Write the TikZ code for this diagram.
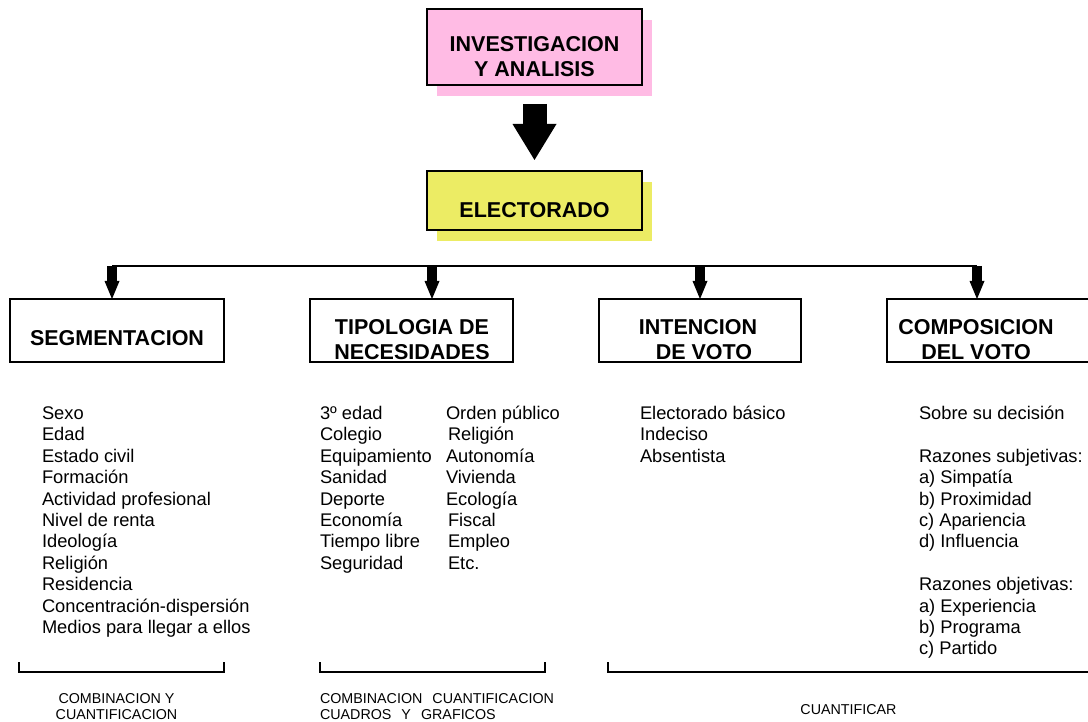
\documentclass[tikz,border=0pt]{standalone}
\usepackage{fontspec}
\setmainfont{Liberation Sans}
\usetikzlibrary{arrows.meta,shadows}
\definecolor{pinkfill}{RGB}{255,187,228}
\definecolor{yellowfill}{RGB}{236,236,100}
\begin{document}
\begin{tikzpicture}[x=1pt, y=-1pt,
  every node/.style={inner sep=0pt, outer sep=0pt},
  topbox/.style={draw=black, line width=2pt, rectangle, minimum width=215pt},
  catbox/.style={draw=black, line width=2pt, rectangle, minimum height=63pt},
  title/.style={font=\fontsize{21.5pt}{25pt}\selectfont\bfseries, align=center},
  item/.style={font=\fontsize{18.3pt}{21.4pt}\selectfont, anchor=base west},
  note/.style={font=\fontsize{14.3pt}{16pt}\selectfont},
  bigarrow/.style={line width=24pt, -{Triangle[width=44pt 0, length=36pt 0, line width=0pt]}},
  branch/.style={line width=10pt, -{Triangle[width=15pt 0, length=18pt 0, line width=0pt]}},
  bus/.style={line width=2pt},
  bracket/.style={line width=1.5pt}
]
\useasboundingbox (0,0) rectangle (1088,722);
\clip (0,0) rectangle (1088,722);

% top boxes with offset shadows
\node[topbox, minimum height=76pt, fill=pinkfill,
      general shadow={fill=pinkfill, draw=none, shadow xshift=10pt, shadow yshift=-11pt}]
      (inv) at (534.5,47) {};
\node[title] (invT) at (534.5,56.5) {INVESTIGACION\\Y ANALISIS};

\node[topbox, minimum height=59pt, fill=yellowfill,
      general shadow={fill=yellowfill, draw=none, shadow xshift=10pt, shadow yshift=-11pt}]
      (elec) at (534.5,200.5) {};
\node[title] (elecT) at (534.5,210) {ELECTORADO};

\draw[bigarrow, shorten <=19pt, shorten >=11pt] (inv.south) -- (elec.north);

% category boxes
\node[catbox, minimum width=214pt] (seg) at (117,330.5) {};
\node[title] (segT) at (117,338) {SEGMENTACION};
\node[catbox, minimum width=203pt] (tip) at (411.5,330.5) {};
\node[title] (tipT) at (412,339.5) {TIPOLOGIA DE\\NECESIDADES};
\node[catbox, minimum width=202pt] (int) at (700,330.5) {};
\node[title] (intT) at (698,339.5) {INTENCION\\\hspace*{12pt}DE VOTO};
\node[catbox, minimum width=213pt] (comp) at (993.5,330.5) {};
\node[title] (compT) at (976,339.5) {COMPOSICION\\DEL VOTO};

% distribution bus and branch arrows
\coordinate (b1) at (112,266);
\coordinate (b2) at (432,266);
\coordinate (b3) at (700,266);
\coordinate (b4) at (977,266);
\draw[bus] (b1) -- (b4);
\draw[branch] (b1) -- (b1 |- seg.north);
\draw[branch] (b2) -- (b2 |- tip.north);
\draw[branch] (b3) -- (b3 |- int.north);
\draw[branch] (b4) -- (b4 |- comp.north);

% lists
\foreach \t [count=\i from 0] in {Sexo, Edad, Estado civil, Formación,
    Actividad profesional, Nivel de renta, Ideología, Religión, Residencia,
    Concentración-dispersión, Medios para llegar a ellos}
  \node[item] (seg-\i) at (42,419.5+21.4*\i) {\t};

\foreach \t [count=\i from 0] in {3º edad, Colegio, Equipamiento, Sanidad,
    Deporte, Economía, Tiempo libre, Seguridad}
  \node[item] (tipa-\i) at (320,419.5+21.4*\i) {\t};

\foreach \x/\t [count=\i from 0] in {446/Orden público, 448/Religión,
    446/Autonomía, 446/Vivienda, 446/Ecología, 448/Fiscal, 448/Empleo, 448/Etc.}
  \node[item] (tipb-\i) at (\x,419.5+21.4*\i) {\t};

\foreach \t [count=\i from 0] in {Electorado básico, Indeciso, Absentista}
  \node[item] (int-\i) at (640,419.5+21.4*\i) {\t};

\foreach \r/\t in {0/Sobre su decisión, 2/Razones subjetivas:, 3/a) Simpatía,
    4/b) Proximidad, 5/c) Apariencia, 6/d) Influencia, 8/Razones objetivas:,
    9/a) Experiencia, 10/b) Programa, 11/c) Partido}
  \node[item] (comp-\r) at (919,419.5+21.4*\r) {\t};

% brackets under the lists
\draw[bracket] (19,662) -- (19,672) -- (224,672) -- (224,662);
\draw[bracket] (320,662) -- (320,672) -- (545,672) -- (545,662);
\draw[bracket] (608,662) -- (608,672) -- (1095,672);

% bracket captions
\node[note, align=center] (n1) at (116.5,707) {COMBINACION Y\\CUANTIFICACION};
\node[note, align=left, anchor=west] (n2) at (320,707)
  {COMBINACION\hspace{10pt}CUANTIFICACION\\CUADROS\hspace{10pt}Y\hspace{10pt}GRAFICOS};
\node[note] (n3) at (848.5,710) {CUANTIFICAR};
\end{tikzpicture}
\end{document}
